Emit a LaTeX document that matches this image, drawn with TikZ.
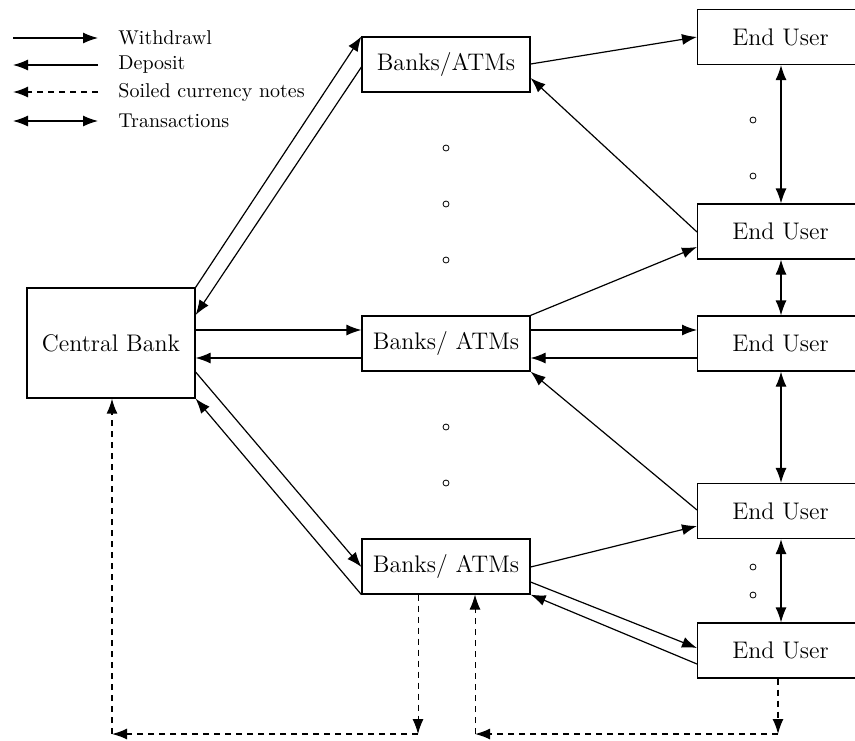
\documentclass[tikz,border=0pt]{standalone}
\usetikzlibrary{arrows.meta}
\begin{document}
\begin{tikzpicture}[x=0.5pt,y=-0.5pt,
  box/.style={draw, rectangle, minimum width=84pt, minimum height=27.5pt, inner sep=0pt, font=\large, line width=0.6pt},
  eubox/.style={box, minimum width=90pt, text width=83pt, align=center},
  ln/.style={line width=0.6pt},
  tip/.style={ln,-{Latex[length=7.5pt,width=5.5pt]}},
  both/.style={ln,{Latex[length=7.5pt,width=5.5pt]}-{Latex[length=7.5pt,width=5.5pt]}},
  dsh/.style={tip, dash pattern=on 3pt off 2.5pt, line width=0.75pt},
  dot/.style={circle, draw, inner sep=0pt, minimum size=3pt, line width=0.4pt},
  legtext/.style={anchor=west, inner sep=0pt, font=\normalsize}]
\clip (0,0) rectangle (855,740);

% legend
\coordinate (l1a) at (13,38);  \coordinate (l1b) at (98,38);
\coordinate (l2a) at (13,65);  \coordinate (l2b) at (98,65);
\coordinate (l3a) at (13,92);  \coordinate (l3b) at (98,92);
\coordinate (l4a) at (13,121); \coordinate (l4b) at (98,121);
\draw[tip] (l1a) -- (l1b);
\draw[tip] (l2b) -- (l2a);
\draw[dsh] (l3b) -- (l3a);
\draw[both] (l4a) -- (l4b);
\node[legtext] (t1) at (118,38) {Withdrawl};
\node[legtext] (t2) at (118,65) {Deposit};
\node[legtext] (t3) at (118,92) {Soiled currency notes};
\node[legtext] (t4) at (118,121) {Transactions};

% nodes
\node[box, minimum height=55pt] (CB) at (111,343) {Central Bank};
\node[box] (B1) at (446,64.5) {Banks/ATMs};
\node[box] (B2) at (446,343.5) {Banks/ ATMs};
\node[box] (B3) at (446,566.5) {Banks/ ATMs};
\node[box, minimum width=90pt, anchor=west] (EU1) at (697,37) {\hspace*{-7pt}End User};
\node[box, minimum width=90pt, anchor=west] (EU2) at (697,231.5) {\hspace*{-7pt}End User};
\node[box, minimum width=90pt, anchor=west] (EU3) at (697,343.5) {\hspace*{-7pt}End User};
\node[box, minimum width=90pt, anchor=west] (EU4) at (697,511) {\hspace*{-7pt}End User};
\node[box, minimum width=90pt, anchor=west] (EU5) at (697,650.5) {\hspace*{-7pt}End User};

% dots
\node[dot] (m1) at (446,148) {};
\node[dot] (m2) at (446,204) {};
\node[dot] (m3) at (446,260) {};
\node[dot] (m4) at (446,427) {};
\node[dot] (m5) at (446,483) {};
\node[dot] (r1) at (753,120) {};
\node[dot] (r2) at (753,176) {};
\node[dot] (r3) at (753,567) {};
\node[dot] (r4) at (753,595) {};

% central bank <-> banks
\draw[tip] (CB.north east) -- (B1.north west);
\draw[tip] (B1.west |- 0,67) -- (CB.east |- 0,315);
\draw[tip] (CB.east |- 0,330) -- (B2.west |- 0,330);
\draw[tip] (B2.west |- 0,358) -- (CB.east |- 0,358);
\draw[tip] (CB.east |- 0,372) -- (B3.west |- 0,567);
\draw[tip] (B3.south west) -- (CB.south east);

% banks <-> end users
\draw[tip] (B1.east |- 0,64) -- (EU1.west |- 0,37);
\draw[tip] (EU2.west |- 0,232) -- (B1.east |- 0,78);
\draw[tip] (B2.north east) -- (EU2.west |- 0,247);
\draw[tip] (B2.east |- 0,330) -- (EU3.west |- 0,330);
\draw[tip] (EU3.west |- 0,358) -- (B2.east |- 0,358);
\draw[tip] (EU4.west |- 0,510) -- (B2.south east);
\draw[tip] (B3.east |- 0,567) -- (EU4.west |- 0,526);
\draw[tip] (B3.east |- 0,582) -- (EU5.west |- 0,648);
\draw[tip] (EU5.west |- 0,664) -- (B3.south east);

% transactions
\coordinate (vx) at (781,0);
\draw[both] (EU1.south -| vx) -- (EU2.north -| vx);
\draw[both] (EU2.south -| vx) -- (EU3.north -| vx);
\draw[both] (EU3.south -| vx) -- (EU4.north -| vx);
\draw[both] (EU4.south -| vx) -- (EU5.north -| vx);

% soiled notes
\coordinate (dl1) at (418,734);
\coordinate (dl2) at (112,734);
\coordinate (dr1) at (778,734);
\coordinate (dr2) at (475,734);
\draw[dsh, line width=0.5pt] (B3.south -| dl1) -- (dl1);
\draw[dsh] (dl1) -- (dl2);
\draw[dsh] (dl2) -- (CB.south -| dl2);
\draw[dsh] (EU5.south -| dr1) -- (dr1);
\draw[dsh] (dr1) -- (dr2);
\draw[dsh, line width=0.5pt] (dr2) -- (B3.south -| dr2);
\end{tikzpicture}
\end{document}
